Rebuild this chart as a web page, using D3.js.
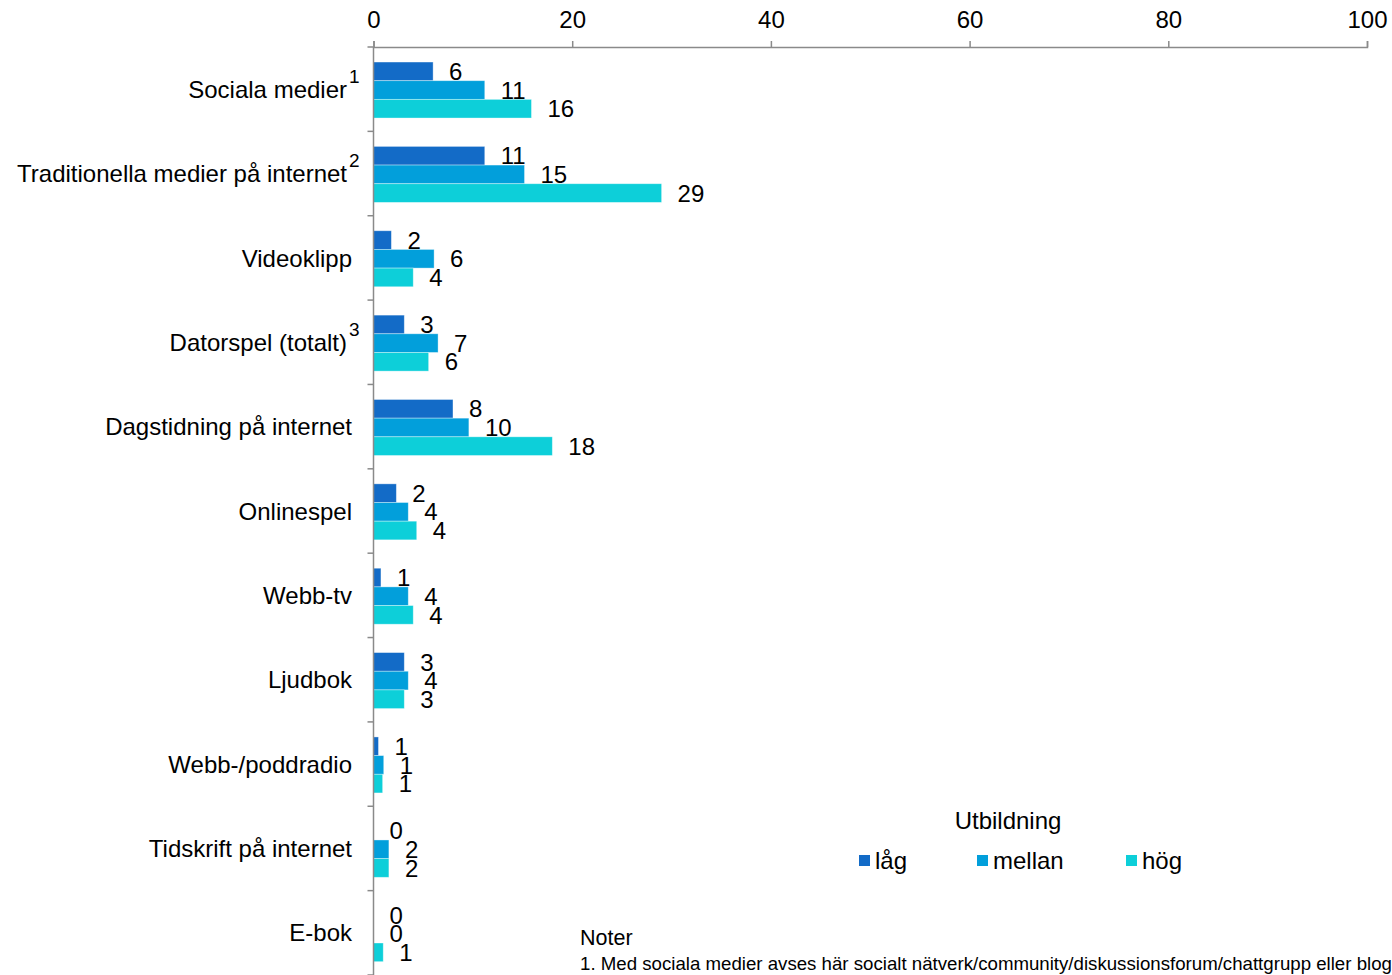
<!DOCTYPE html>
<html>
<head>
<meta charset="utf-8">
<script src="https://cdn.jsdelivr.net/npm/d3@7/dist/d3.min.js"></script>
<style>
  html, body { margin: 0; padding: 0; background: #fff; }
  svg { display: block; }
  text { font-family: "Liberation Sans", Arial, sans-serif; fill: #000; }
</style>
</head>
<body>
<svg id="chart" width="1392" height="975"></svg>
<script>
// ---- data ----
const categories = [
  "Sociala medier",
  "Traditionella medier på internet",
  "Videoklipp",
  "Datorspel (totalt)",
  "Dagstidning på internet",
  "Onlinespel",
  "Webb-tv",
  "Ljudbok",
  "Webb-/poddradio",
  "Tidskrift på internet",
  "E-bok"
];
const footnotes = ["1", "2", "", "3", "", "", "", "", "", "", ""];
const seriesNames = ["låg", "mellan", "hög"];
const lag    = [6.0, 11.2, 1.8, 3.1, 8.0, 2.3, 0.75, 3.1, 0.5, 0, 0];
const mellan = [11.2, 15.2, 6.1, 6.5, 9.6, 3.5, 3.5, 3.5, 1.03, 1.55, 0];
const hog    = [15.9, 29.0, 4.0, 5.55, 18.0, 4.35, 4.0, 3.1, 0.92, 1.55, 0.98];
const xTicks = [0, 20, 40, 60, 80, 100];
const legendTitle = "Utbildning";
const noteTitle = "Noter";
const noteText = "1. Med sociala medier avses här socialt nätverk/community/diskussionsforum/chattgrupp eller blog";

const colors = ["#136bc7", "#029fdb", "#0dcfd9"];
const seriesValues = [lag, mellan, hog];

// ---- layout ----
const svg = d3.select("#chart");
const x0 = 373.5, x1 = 1367, yTop = 47, yBot = 975;
const axisColor = "#8a8a8a";
const fs = "24px";

const x = d3.scaleLinear().domain([0, 100]).range([x0, x1]);
const y = d3.scaleBand().domain(categories).range([yTop, yBot]).padding(0);
const yInner = d3.scaleBand().domain(seriesNames).range([0, y.bandwidth()])
  .paddingInner(0).paddingOuter(0.76).align(0.53);

const rows = categories.map((c, i) => ({
  cat: c,
  vals: seriesNames.map((s, j) => ({ s, v: seriesValues[j][i], color: colors[j] }))
}));

// bars
const g = svg.append("g");
const grp = g.selectAll("g.cat").data(rows).join("g")
  .attr("transform", d => `translate(0,${y(d.cat)})`);

grp.selectAll("rect").data(d => d.vals.filter(v => v.v > 0)).join("rect")
  .attr("x", x(0))
  .attr("y", d => yInner(d.s))
  .attr("width", d => x(d.v) - x(0))
  .attr("height", yInner.bandwidth())
  .attr("fill", d => d.color)
  .attr("stroke", "#ffffff")
  .attr("stroke-opacity", 0.45)
  .attr("stroke-width", 0.8);

grp.selectAll("text.val").data(d => d.vals).join("text")
  .attr("class", "val")
  .attr("x", d => x(d.v) + 16)
  .attr("y", d => yInner(d.s) + yInner.bandwidth() / 2)
  .attr("dy", "0.36em")
  .style("font-size", fs)
  .text(d => Math.round(d.v));

// top axis
const xAxis = d3.axisTop(x).tickValues(xTicks).tickSize(6).tickPadding(13).tickFormat(d3.format("d"));
const xa = svg.append("g").attr("transform", `translate(0,${yTop})`).call(xAxis);
xa.select(".domain").attr("stroke", axisColor).attr("stroke-width", 1.5);
xa.selectAll(".tick line").attr("stroke", axisColor).attr("stroke-width", 1.5);
xa.selectAll(".tick text").style("font-size", fs).attr("fill", "#000")
  .style("font-family", '"Liberation Sans", Arial, sans-serif');

// left axis: vertical line + boundary ticks
svg.append("line")
  .attr("x1", x(0)).attr("x2", x(0)).attr("y1", yTop).attr("y2", yBot)
  .attr("stroke", axisColor).attr("stroke-width", 1.5);
const bounds = categories.map(c => y(c)).concat([y.range()[1]]);
svg.selectAll("line.ytick").data(bounds).join("line")
  .attr("class", "ytick")
  .attr("x1", x(0) - 6).attr("x2", x(0)).attr("y1", d => d).attr("y2", d => d)
  .attr("stroke", axisColor).attr("stroke-width", 1.5);

// category labels
categories.forEach((d, i) => {
  const cy = y(d) + y.bandwidth() / 2;
  if (footnotes[i]) {
    svg.append("text").attr("class", "cat")
      .attr("x", 347).attr("y", cy).attr("dy", "0.36em")
      .attr("text-anchor", "end").style("font-size", fs).text(d);
    svg.append("text").attr("class", "sup")
      .attr("x", 349).attr("y", cy - 13).attr("dy", "0.36em")
      .style("font-size", "19px").text(footnotes[i]);
  } else {
    svg.append("text").attr("class", "cat")
      .attr("x", 352).attr("y", cy).attr("dy", "0.36em")
      .attr("text-anchor", "end").style("font-size", fs).text(d);
  }
});

// legend
svg.append("text").attr("x", 1008).attr("y", 820).attr("dy", "0.36em")
  .attr("text-anchor", "middle").style("font-size", fs).text(legendTitle);
const legendX = [859, 977, 1126];
const lg = svg.selectAll("g.leg").data(seriesNames).join("g")
  .attr("class", "leg")
  .attr("transform", (d, i) => `translate(${legendX[i]},855)`);
lg.append("rect").attr("width", 11).attr("height", 11).attr("fill", (d, i) => colors[i]);
lg.append("text").attr("x", 16).attr("y", 5.5).attr("dy", "0.36em")
  .style("font-size", fs).text(d => d);

// notes
svg.append("text").attr("x", 580).attr("y", 937).attr("dy", "0.36em")
  .style("font-size", "21.5px").text(noteTitle);
const nt = svg.append("text").attr("x", 580).attr("y", 963).attr("dy", "0.36em")
  .style("font-size", "16px").text(noteText);
const w = nt.node().getComputedTextLength();
const target = 1392 - 580;
nt.style("font-size", (16 * target / w).toFixed(2) + "px");
</script>
</body>
</html>
